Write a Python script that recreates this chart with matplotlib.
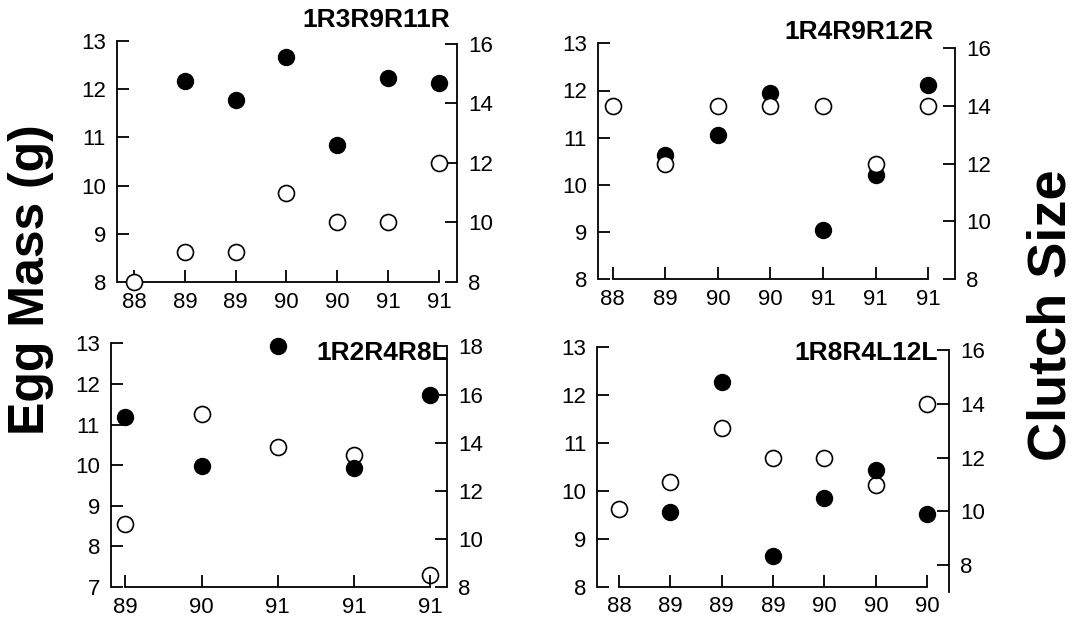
import matplotlib
matplotlib.use('Agg')
import matplotlib.pyplot as plt
import numpy as np

W, H = 1084, 624

# year labels, egg mass (g, filled) and clutch size (open) for each female
years_1 = ['88', '89', '89', '90', '90', '91', '91']
mass_1 = [np.nan, 12.17, 11.77, 12.67, 10.85, 12.23, 12.13]
clutch_1 = [8, 9, 9, 11, 10, 10, 12]

years_2 = ['88', '89', '90', '90', '91', '91', '91']
mass_2 = [np.nan, 10.63, 11.06, 11.95, 9.04, 10.21, 12.12]
clutch_2 = [14, 12, 14, 14, 14, 12, 14]

years_3 = ['89', '90', '91', '91', '91']
mass_3 = [11.18, 9.98, 12.94, 9.92, 11.73]
clutch_3 = [10.6, 15.2, 13.8, 13.5, 8.5]

years_4 = ['88', '89', '89', '89', '90', '90', '90']
mass_4 = [np.nan, 9.55, 12.27, 8.63, 9.84, 10.43, 9.51]
clutch_4 = [10.1, 11.1, 13.1, 12.0, 12.0, 11.0, 14.0]

names = ['1R3R9R11R', '1R4R9R12R', '1R2R4R8L', '1R8R4L12L']

plt.rcParams['font.family'] = ['Liberation Sans', 'DejaVu Sans']

fig = plt.figure(figsize=(W / 100, H / 100), dpi=100)


def px_axes(left, top, right, bottom):
    return fig.add_axes([left / W, 1 - bottom / H, (right - left) / W, (bottom - top) / H])


# layout in pixels of the scanned figure
layout = [
    dict(box=(117, 41, 457, 282), xlim=(-0.334, 6.354), mlim=(8, 13),
         clim=(8.07, 16.1), cspan=(8, 16), title=(450, 27), filled_top=False),
    dict(box=(598, 43.3, 955, 279.3), xlim=(-0.28, 6.51), mlim=(8, 13),
         clim=(8.13, 16.16), cspan=(8, 16), title=(933, 39), filled_top=False),
    dict(box=(111, 343.3, 447, 587), xlim=(-0.19, 4.22), mlim=(7, 13),
         clim=(8.09, 18.13), cspan=(8, 18), title=(448, 360), filled_top=True),
    dict(box=(597.3, 346.7, 949.3, 586.7), xlim=(-0.42, 6.43), mlim=(8, 13),
         clim=(7.19, 16.14), cspan=(7, 16), title=(938, 360), filled_top=True),
]
data = [(years_1, mass_1, clutch_1), (years_2, mass_2, clutch_2),
        (years_3, mass_3, clutch_3), (years_4, mass_4, clutch_4)]

lw = 1.3
for (years, mass, clutch), name, lay in zip(data, names, layout):
    ax = px_axes(*lay['box'])
    x = np.arange(len(years))
    ax.plot(x, mass, 'o', mfc='black', mec='black', ms=11.5, clip_on=False)
    ax.set_xlim(*lay['xlim'])
    ax.set_ylim(*lay['mlim'])
    ax.set_xticks(x)
    ax.set_xticklabels(years)
    ax.set_yticks(range(lay['mlim'][0], lay['mlim'][1] + 1))
    ax.spines['top'].set_visible(False)
    ax.spines['right'].set_visible(False)
    ax.spines['left'].set_bounds(*lay['mlim'])
    ax.spines['bottom'].set_bounds(0, len(years) - 1)
    for s in ('left', 'bottom'):
        ax.spines[s].set_linewidth(lw)
    ax.tick_params(axis='y', direction='in', length=8.5, width=lw, labelsize=16, pad=8)
    ax.tick_params(axis='x', direction='in', length=8.5, width=lw, labelsize=16, pad=7)

    ax2 = ax.twinx()
    ax2.plot(x, clutch, 'o', mfc='white', mec='black', mew=1.2, ms=11.5, clip_on=False)
    ax2.set_ylim(*lay['clim'])
    ax2.set_yticks(range(8, lay['cspan'][1] + 1, 2))
    for s in ('left', 'top', 'bottom'):
        ax2.spines[s].set_visible(False)
    ax2.spines['right'].set_bounds(*lay['cspan'])
    ax2.spines['right'].set_linewidth(lw)
    ax2.tick_params(axis='y', direction='in', length=8.5, width=lw, labelsize=16, pad=8)

    if lay['filled_top']:
        ax.set_zorder(ax2.get_zorder() + 1)
        ax.patch.set_visible(False)

    fig.text(lay['title'][0] / W, 1 - lay['title'][1] / H, name, fontsize=19,
             fontweight='bold', ha='right', va='baseline')

fig.text(31 / W, 1 - 280 / H, 'Egg Mass (g)', rotation=90, fontsize=36,
         fontweight='bold', ha='center', va='center')
fig.text(1052 / W, 1 - 315 / H, 'Clutch Size', rotation=90, fontsize=39,
         fontweight='bold', ha='center', va='center')

fig.savefig('out.png', dpi=100)
